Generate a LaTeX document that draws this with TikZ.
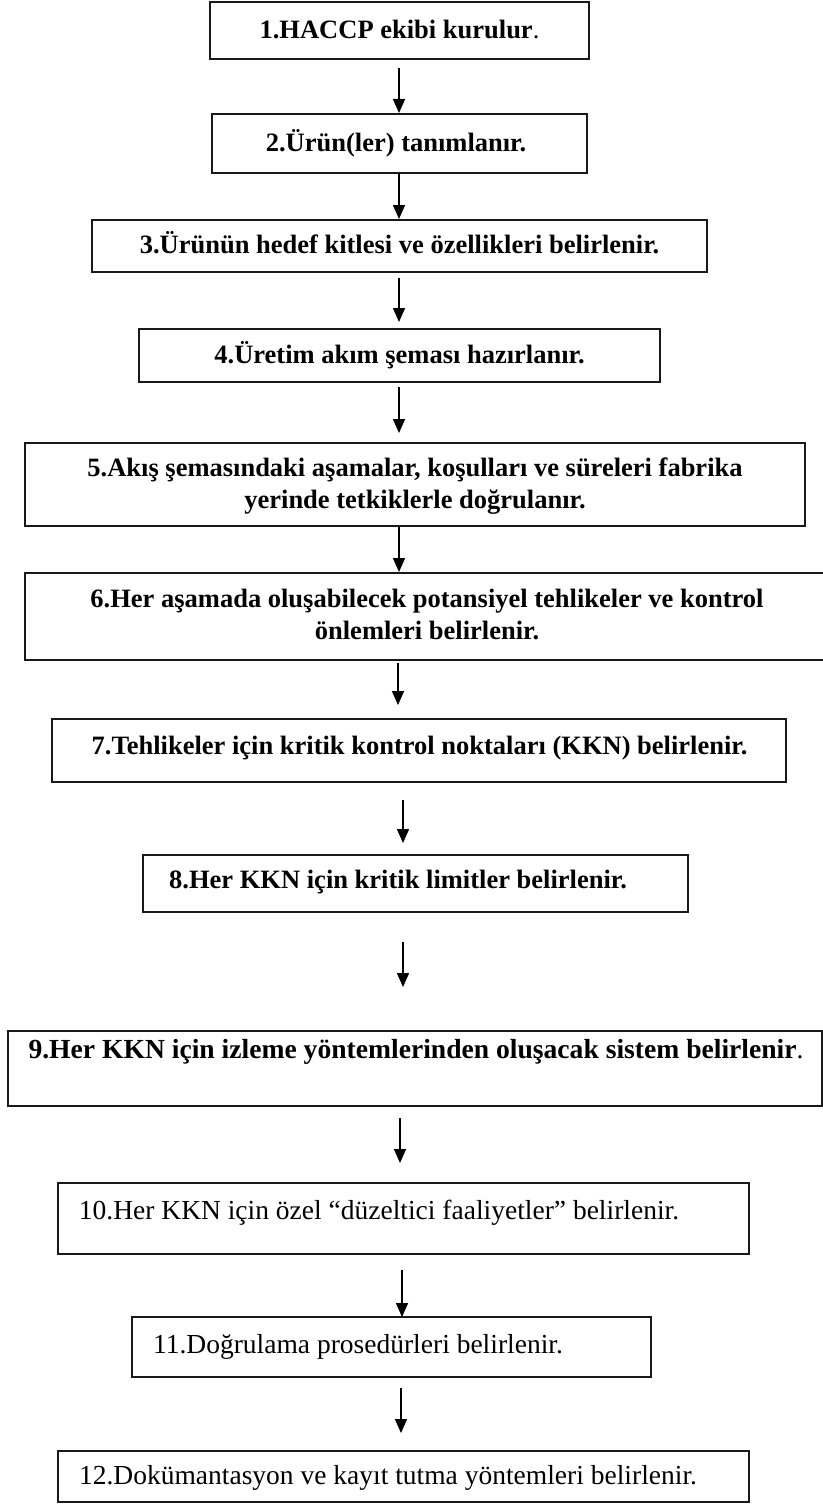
\documentclass[tikz,border=0pt]{standalone}
\usepackage{fontspec}
\setmainfont{Liberation Serif}
\usetikzlibrary{arrows.meta,calc}
\begin{document}
\begin{tikzpicture}[x=0.5pt,y=-0.5pt,
  stepbox/.style={draw=black!90,line width=1pt,inner sep=0pt,outer sep=0pt,fill=none},
  boldtxt/.style={inner sep=0pt,font=\fontsize{13.25}{16}\selectfont\bfseries,align=center},
  regtxt/.style={inner sep=0pt,font=\fontsize{13.75}{16}\selectfont,align=center},
  arr/.style={draw=black,line width=0.75pt,-{Triangle[length=7pt,width=6pt]}}]
\clip (0,0) rectangle (823,1504);
\fill[white] (0,0) rectangle (823,1504);
% boxes
\node[stepbox,minimum width=189.5pt,minimum height=28.5pt] (b1) at (399.5,30.5) {};
\node[stepbox,minimum width=187.5pt,minimum height=29.5pt] (b2) at (399.5,143.5) {};
\node[stepbox,minimum width=307.5pt,minimum height=26pt] (b3) at (399.5,246) {};
\node[stepbox,minimum width=260.5pt,minimum height=26.5pt] (b4) at (399.5,355.5) {};
\node[stepbox,minimum width=390pt,minimum height=41.5pt] (b5) at (415,484.5) {};
\node[stepbox,minimum width=401pt,minimum height=43.5pt] (b6) at (425.5,616.5) {};
\node[stepbox,minimum width=367pt,minimum height=31.5pt] (b7) at (419,750.5) {};
\node[stepbox,minimum width=272.5pt,minimum height=28.5pt] (b8) at (415.5,883.5) {};
\node[stepbox,minimum width=407pt,minimum height=37.5pt] (b9) at (415,1068.5) {};
\node[stepbox,minimum width=345.5pt,minimum height=35.5pt] (b10) at (403.5,1218.5) {};
\node[stepbox,minimum width=259.5pt,minimum height=30pt] (b11) at (391.5,1347) {};
\node[stepbox,minimum width=345.5pt,minimum height=25.5pt] (b12) at (403.5,1476.5) {};
% texts
\node[boldtxt,anchor=base] (t1) at (399.5,39) {1.HACCP ekibi kurulur{\mdseries .}};
\node[boldtxt,anchor=base] (t2) at (396,152) {2.Ürün(ler) tanımlanır.};
\node[boldtxt,anchor=base] (t3) at (399.5,253) {3.Ürünün hedef kitlesi ve özellikleri belirlenir.};
\node[boldtxt,anchor=base] (t4) at (399.5,363) {4.Üretim akım şeması hazırlanır.};
\node[boldtxt] (t5) at (415,486) {5.Akış şemasındaki aşamalar, koşulları ve süreleri fabrika\\yerinde tetkiklerle doğrulanır.};
\node[boldtxt] (t6) at (427,614.5) {6.Her aşamada oluşabilecek potansiyel tehlikeler ve kontrol\\önlemleri belirlenir.};
\node[boldtxt,anchor=base] (t7) at (419.5,754) {7.Tehlikeler için kritik kontrol noktaları (KKN) belirlenir.};
\node[boldtxt,anchor=base] (t8) at (398,888) {8.Her KKN için kritik limitler belirlenir.};
\node[boldtxt,anchor=base,font=\fontsize{13.8}{16}\selectfont\bfseries] (t9) at (416,1058) {9.Her KKN için izleme yöntemlerinden oluşacak sistem belirlenir{\mdseries .}};
\node[regtxt,anchor=base] (t10) at (379,1219) {10.Her KKN için özel “düzeltici faaliyetler” belirlenir.};
\node[regtxt,anchor=base] (t11) at (358,1353) {11.Doğrulama prosedürleri belirlenir.};
\node[regtxt,anchor=base] (t12) at (388,1484) {12.Dokümantasyon ve kayıt tutma yöntemleri belirlenir.};
% arrows
\draw[arr,shorten <=4.5pt,shorten >=0.5pt] ([xshift=-0.25pt]b1.south) -- ([xshift=-0.25pt]b2.north);
\draw[arr,shorten >=0.5pt] ([xshift=-0.25pt]b2.south) -- ([xshift=-0.25pt]b3.north);
\draw[arr,shorten <=3pt,shorten >=3.5pt] ([xshift=-0.25pt]b3.south) -- ([xshift=-0.25pt]b4.north);
\draw[arr,shorten <=2.5pt,shorten >=5pt] ([xshift=-0.25pt]b4.south) -- ([xshift=-8pt]b5.north);
\draw[arr,shorten <=0.5pt,shorten >=0.5pt] ([xshift=-8pt]b5.south) -- ([xshift=-13.25pt]b6.north);
\draw[arr,shorten <=1.5pt,shorten >=7pt] ([xshift=-13.75pt]b6.south) -- ([xshift=-10.5pt]b7.north);
\draw[arr,shorten <=9pt,shorten >=6pt] ([xshift=-8pt]b7.south) -- ([xshift=-6.25pt]b8.north);
\draw[arr,shorten <=15pt,shorten >=22pt] ([xshift=-6.25pt]b8.south) -- ([xshift=-6pt]b9.north);
\draw[arr,shorten <=6pt,shorten >=10pt] ([xshift=-7.5pt]b9.south) -- ([xshift=-1.75pt]b10.north);
\draw[arr,shorten <=8pt] ([xshift=-0.75pt]b10.south) -- ([xshift=5.25pt]b11.north);
\draw[arr,shorten <=5.5pt,shorten >=9pt] ([xshift=4.75pt]b11.south) -- ([xshift=-1.25pt]b12.north);
\end{tikzpicture}
\end{document}
